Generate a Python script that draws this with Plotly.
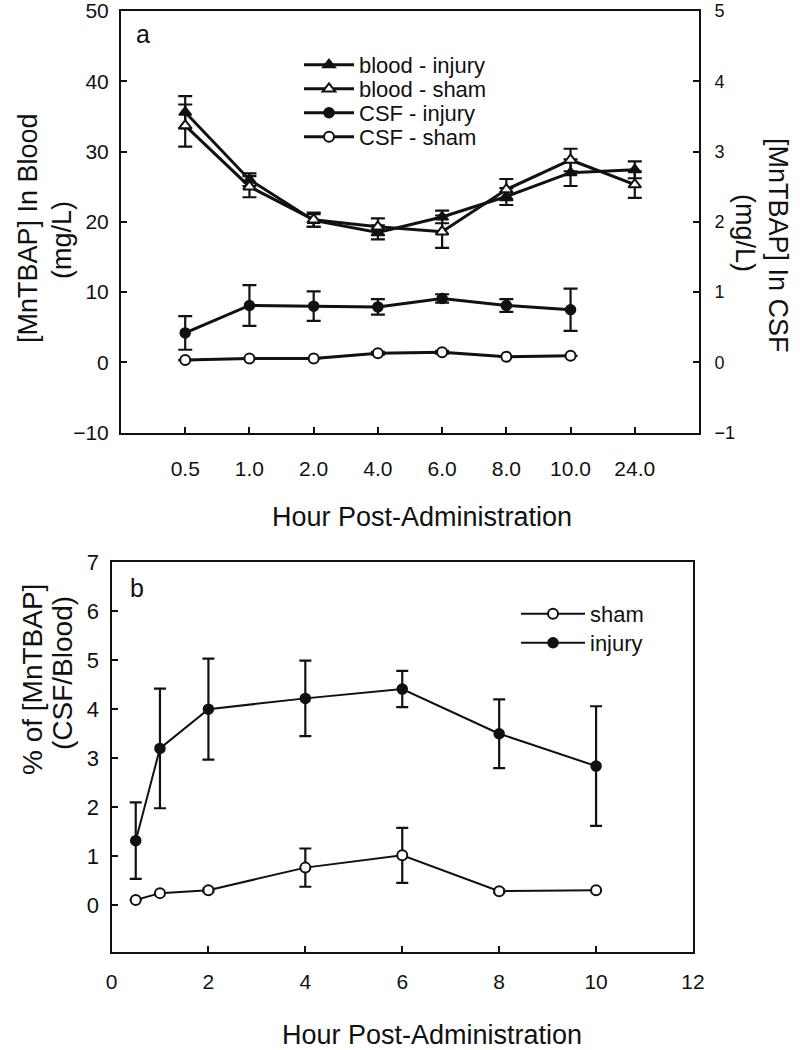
import plotly.graph_objects as go

# ---------------- data ----------------
hours_a = ["0.5", "1.0", "2.0", "4.0", "6.0", "8.0", "10.0", "24.0"]
blood_injury = [35.6, 26.0, 20.2, 18.5, 20.7, 23.6, 27.0, 27.4]
blood_injury_err = [2.3, 0.9, 0.9, 1.0, 0.9, 1.2, 1.9, 1.2]
blood_sham = [33.7, 25.0, 20.3, 19.3, 18.6, 24.6, 28.8, 25.3]
blood_sham_err = [3.0, 1.5, 1.0, 1.2, 2.3, 1.5, 1.6, 1.9]

hours_csf = ["0.5", "1.0", "2.0", "4.0", "6.0", "8.0", "10.0"]
csf_injury = [0.42, 0.81, 0.80, 0.79, 0.91, 0.81, 0.75]
csf_injury_err = [0.24, 0.29, 0.21, 0.11, 0.06, 0.09, 0.30]
csf_sham = [0.033, 0.056, 0.056, 0.13, 0.146, 0.08, 0.094]
csf_sham_err = [None, None, None, 0.02, 0.02, None, None]

hours_b = [0.5, 1, 2, 4, 6, 8, 10]
pct_sham = [0.11, 0.25, 0.31, 0.77, 1.02, 0.29, 0.31]
pct_sham_err = [None, None, 0.03, 0.39, 0.56, 0.03, None]
pct_injury = [1.32, 3.20, 4.00, 4.22, 4.41, 3.50, 2.84]
pct_injury_err = [0.78, 1.22, 1.03, 0.77, 0.37, 0.70, 1.22]

# ---------------- layout helpers ----------------
W, H = 800, 1050
FONT = "Liberation Sans, Arial, sans-serif"
INK = "#111111"


def fx(p):
    return p / W


def fy(p):
    return 1 - p / H


fig = go.Figure()


def err(vals, width, thick):
    return dict(type="data", array=vals, visible=True, color=INK,
                thickness=thick, width=width)


# ---- panel a ----
fig.add_trace(go.Scatter(
    x=hours_a, y=blood_injury, name="blood - injury", mode="lines+markers",
    xaxis="x", yaxis="y", legend="legend2",
    line=dict(color=INK, width=3),
    marker=dict(symbol="triangle-up", size=11, color=INK, line=dict(color=INK, width=1.5)),
    error_y=err(blood_injury_err, 7, 2.2)))
fig.add_trace(go.Scatter(
    x=hours_a, y=blood_sham, name="blood - sham", mode="lines+markers",
    xaxis="x", yaxis="y", legend="legend3",
    line=dict(color=INK, width=3),
    marker=dict(symbol="triangle-up", size=11, color="white", line=dict(color=INK, width=2)),
    error_y=err(blood_sham_err, 7, 2.2)))
fig.add_trace(go.Scatter(
    x=hours_csf, y=csf_injury, name="CSF - injury", mode="lines+markers",
    xaxis="x", yaxis="y2", legend="legend4",
    line=dict(color=INK, width=3),
    marker=dict(symbol="circle", size=10, color=INK, line=dict(color=INK, width=1.5)),
    error_y=err(csf_injury_err, 7, 2.2)))
fig.add_trace(go.Scatter(
    x=hours_csf, y=csf_sham, name="CSF - sham", mode="lines+markers",
    xaxis="x", yaxis="y2", legend="legend5",
    line=dict(color=INK, width=3),
    marker=dict(symbol="circle", size=10, color="white", line=dict(color=INK, width=2)),
    error_y=err(csf_sham_err, 7, 2.2)))

# ---- panel b ----
fig.add_trace(go.Scatter(
    x=hours_b, y=pct_sham, name="sham", mode="lines+markers",
    xaxis="x2", yaxis="y3", legend="legend6",
    line=dict(color=INK, width=2),
    marker=dict(symbol="circle", size=10, color="white", line=dict(color=INK, width=2)),
    error_y=err(pct_sham_err, 6, 2.2)))
fig.add_trace(go.Scatter(
    x=hours_b, y=pct_injury, name="injury", mode="lines+markers",
    xaxis="x2", yaxis="y3", legend="legend7",
    line=dict(color=INK, width=2),
    marker=dict(symbol="circle", size=10, color=INK, line=dict(color=INK, width=1.5)),
    error_y=err(pct_injury_err, 6, 2.2)))

axis_common = dict(showline=True, linecolor=INK, linewidth=2, ticks="inside",
                   ticklen=6, tickwidth=2, tickcolor=INK, showgrid=False,
                   zeroline=False, color=INK, automargin=False,
                   ticklabeloverflow="allow")


def tf(size):
    return dict(size=size, family=FONT, color=INK)


# panel geometry (pixels)
A_L, A_R, A_T, A_B = 121, 699, 11, 432.7
B_L, B_R, B_T, B_B = 111.5, 693, 562, 952

fig.update_layout(
    width=W, height=H, margin=dict(l=0, r=0, t=0, b=0, autoexpand=False),
    paper_bgcolor="white", plot_bgcolor="white", showlegend=True,
    font=dict(family=FONT, color=INK),
    xaxis=dict(domain=[fx(A_L), fx(A_R)], anchor="y", type="category",
               categoryorder="array", categoryarray=hours_a, range=[-1, 8],
               mirror=True, tickfont=tf(21), ticklabelstandoff=16,
               **axis_common),
    yaxis=dict(domain=[fy(A_B), fy(A_T)], anchor="x", range=[-10, 50],
               tickvals=[-10, 0, 10, 20, 30, 40, 50], tickfont=tf(21),
               ticklabelstandoff=6, **axis_common),
    yaxis2=dict(overlaying="y", anchor="x", side="right", range=[-1, 5],
                tickvals=[-1, 0, 1, 2, 3, 4, 5], tickfont=tf(18),
                ticklabelstandoff=10, **axis_common),
    xaxis2=dict(domain=[fx(B_L), fx(B_R)], anchor="y3", range=[0, 12],
                tickvals=[0, 2, 4, 6, 8, 10, 12], mirror=True,
                tickfont=tf(21), ticklabelstandoff=10, **axis_common),
    yaxis3=dict(domain=[fy(B_B), fy(B_T)], anchor="x2", range=[-0.95, 7],
                tickvals=[0, 1, 2, 3, 4, 5, 6, 7], mirror=True,
                tickfont=tf(22), ticklabelstandoff=6, **axis_common),
)

# legends (one per entry, to control row spacing)
leg_common = dict(xanchor="left", yanchor="middle", bgcolor="rgba(0,0,0,0)",
                  borderwidth=0, font=tf(22), visible=True)
rows_a = [65, 89, 113, 137]
for n, ry in zip(["legend2", "legend3", "legend4", "legend5"], rows_a):
    fig.update_layout({n: dict(x=fx(299), y=fy(ry), itemwidth=50, **leg_common)})
rows_b = [614, 643]
for n, ry in zip(["legend6", "legend7"], rows_b):
    fig.update_layout({n: dict(x=fx(516), y=fy(ry), itemwidth=64, **leg_common)})

ann = []


def text(x, y, s, size, angle=0):
    ann.append(dict(x=fx(x), y=fy(y), xref="paper", yref="paper", text=s,
                    showarrow=False, textangle=angle, xanchor="center",
                    yanchor="middle", font=tf(size)))


text(143, 34, "a", 25)
text(137, 588, "b", 25)
text(422, 517, "Hour Post-Administration", 27)
text(432, 1035, "Hour Post-Administration", 27)
text(28, 228, "[MnTBAP] In Blood", 27, -90)
text(62, 240, "(mg/L)", 27, -90)
text(778, 245, "[MnTBAP] In CSF", 27, 90)
text(745, 233, "(mg/L)", 27, 90)
text(32, 680, "% of [MnTBAP]", 28, -90)
text(62, 673, "(CSF/Blood)", 28, -90)
fig.update_layout(annotations=ann)

fig.write_html("out.html", config={"displayModeBar": False},
               post_script="document.body.style.margin='0';document.body.style.padding='0';")
